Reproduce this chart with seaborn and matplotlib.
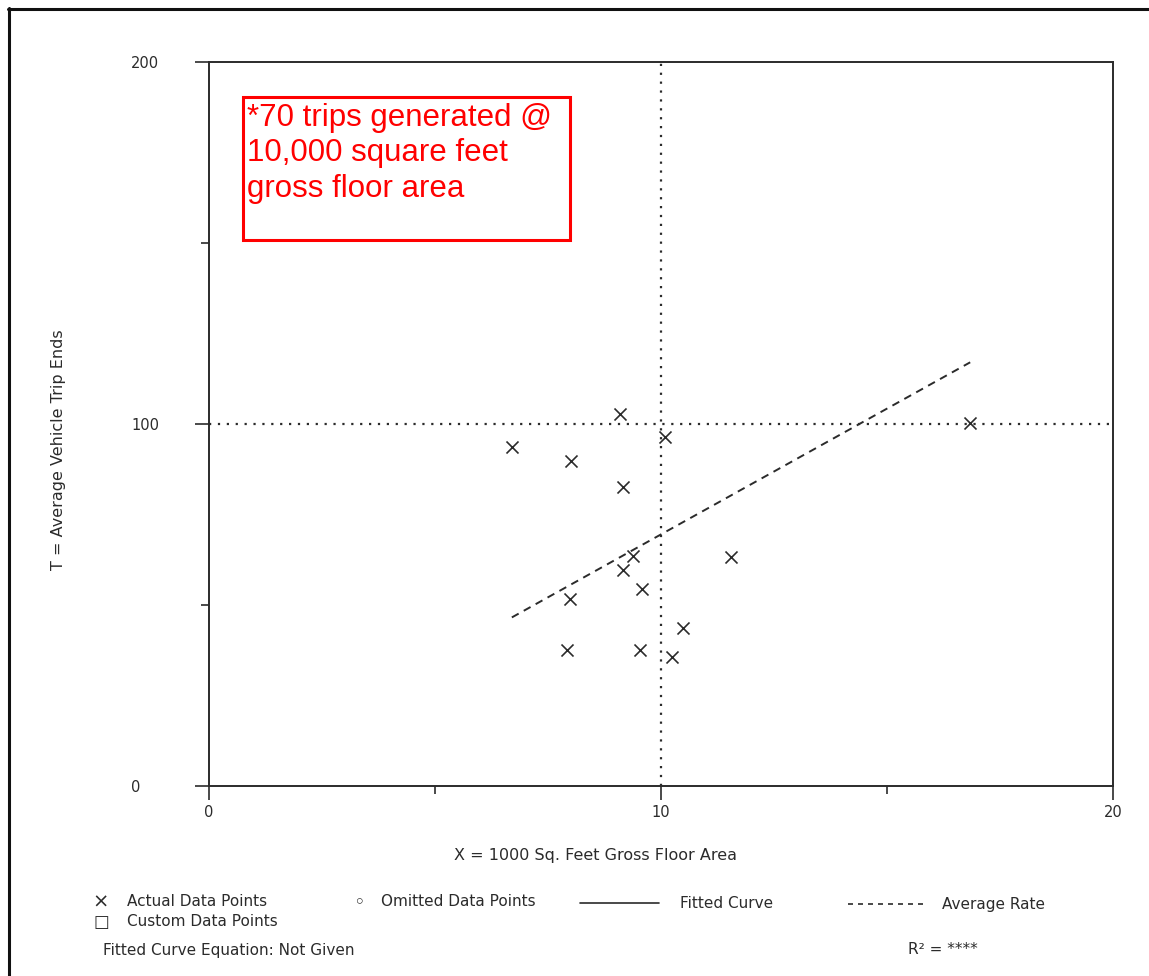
import numpy as np
import pandas as pd
import seaborn as sns
import matplotlib.pyplot as plt
from matplotlib.lines import Line2D
from matplotlib.patches import Rectangle

# datos
area_x = [6.70, 8.01, 9.09, 9.16, 10.09, 16.84, 9.38, 9.16, 9.58, 7.99, 11.55, 10.49, 7.92, 9.54, 10.24]
trips_y = [93.6, 89.8, 102.8, 82.6, 96.4, 100.3, 63.5, 59.7, 54.4, 51.7, 63.3, 43.6, 37.6, 37.6, 35.6]
avg_rate = 6.95          # viajes por 1000 pies cuadrados
ref_x = 10               # linea vertical punteada
ref_y = 100              # linea horizontal punteada
x_ticks = [0, 10, 20]
y_ticks = [0, 100, 200]

df = pd.DataFrame({'x': area_x, 'y': trips_y})
rate_x = np.array([min(area_x), max(area_x)])
df_rate = pd.DataFrame({'x': rate_x, 'y': rate_x * avg_rate})

sns.set_style('white')
plt.rcParams['font.family'] = ['DejaVu Sans']

fig = plt.figure(figsize=(11.49, 9.76), dpi=100)
ax = fig.add_axes([0.1819, 0.1947, 0.7868, 0.7418])

ink = '#2b2b2b'

# lineas de referencia punteadas
ax.axvline(ref_x, color=ink, lw=1.6, ls=(0, (1, 3)))
ax.axhline(ref_y, color=ink, lw=1.6, ls=(0, (1, 3)))

# tasa promedio
sns.lineplot(data=df_rate, x='x', y='y', ax=ax, color=ink, lw=1.4,
             linestyle=(0, (4, 3)), legend=False)

# puntos de datos
sns.scatterplot(data=df, x='x', y='y', ax=ax, marker='x', s=75,
                color=ink, linewidth=1.2, legend=False)

ax.set_xlim(0, 20)
ax.set_ylim(0, 200)
ax.set_xticks(x_ticks)
ax.set_xticks([5, 15], minor=True)
ax.set_yticks(y_ticks)
ax.set_yticks([50, 150], minor=True)
ax.tick_params(axis='both', which='major', direction='out', length=10, width=1.2,
               colors=ink, labelsize=10.5, bottom=True, left=True)
ax.tick_params(axis='both', which='minor', direction='out', length=6, width=1.2,
               colors=ink, bottom=True, left=True)
ax.tick_params(axis='x', pad=4)
ax.tick_params(axis='y', pad=46)
for lab in ax.get_yticklabels():
    lab.set_horizontalalignment('left')

for sp in ax.spines.values():
    sp.set_color(ink)
    sp.set_linewidth(1.4)

ax.set_xlabel('X = 1000 Sq. Feet Gross Floor Area', fontsize=11.5, color=ink)
ax.set_ylabel('T = Average Vehicle Trip Ends', fontsize=11.5, color=ink)
ax.xaxis.set_label_coords(0.428, -0.085)
ax.yaxis.set_label_coords(-0.158, 0.464)

# cuadro rojo de anotacion
ax.add_patch(Rectangle((0.0376, 0.754), 0.3617, 0.198, transform=ax.transAxes,
                       fill=False, edgecolor='#ff0000', lw=2.2, zorder=5))
ax.text(0.042, 0.944, '*70 trips generated @\n10,000 square feet\ngross floor area',
        transform=ax.transAxes, ha='left', va='top', color='#ff0000',
        fontsize=22.5, family=['Liberation Sans', 'DejaVu Sans'], linespacing=1.25, zorder=6)

# leyenda inferior
def fx(px):
    return px / 1149

def fy(py):
    return 1 - py / 976

fs = 11
fig.text(fx(101), fy(902), '×', fontsize=14, color=ink, ha='center', va='center')
fig.text(fx(127), fy(902), 'Actual Data Points', fontsize=fs, color=ink, va='center')
fig.text(fx(101), fy(922), '□', fontsize=12, color=ink, ha='center', va='center')
fig.text(fx(127), fy(922), 'Custom Data Points', fontsize=fs, color=ink, va='center')
fig.text(fx(359), fy(903), '◦', fontsize=14, color=ink, ha='center', va='center')
fig.text(fx(381), fy(902), 'Omitted Data Points', fontsize=fs, color=ink, va='center')
fig.add_artist(Line2D([fx(580), fx(659)], [fy(903), fy(903)], color=ink, lw=1.2))
fig.text(fx(680), fy(903), 'Fitted Curve', fontsize=fs, color=ink, va='center')
fig.add_artist(Line2D([fx(848), fx(923)], [fy(904), fy(904)], color=ink, lw=1.2,
                      ls=(0, (3, 3))))
fig.text(fx(942), fy(904), 'Average Rate', fontsize=fs, color=ink, va='center')
fig.text(fx(103), fy(950), 'Fitted Curve Equation: Not Given', fontsize=fs, color=ink, va='center')
fig.text(fx(908), fy(950), 'R² = ****', fontsize=fs, color=ink, va='center')

# borde de la pagina escaneada
fig.add_artist(Line2D([fx(9), fx(9)], [fy(8), 0], color='#111111', lw=2.2))
fig.add_artist(Line2D([fx(8), 1], [fy(9), fy(9)], color='#111111', lw=2.2))

fig.savefig('out.png', dpi=100)
